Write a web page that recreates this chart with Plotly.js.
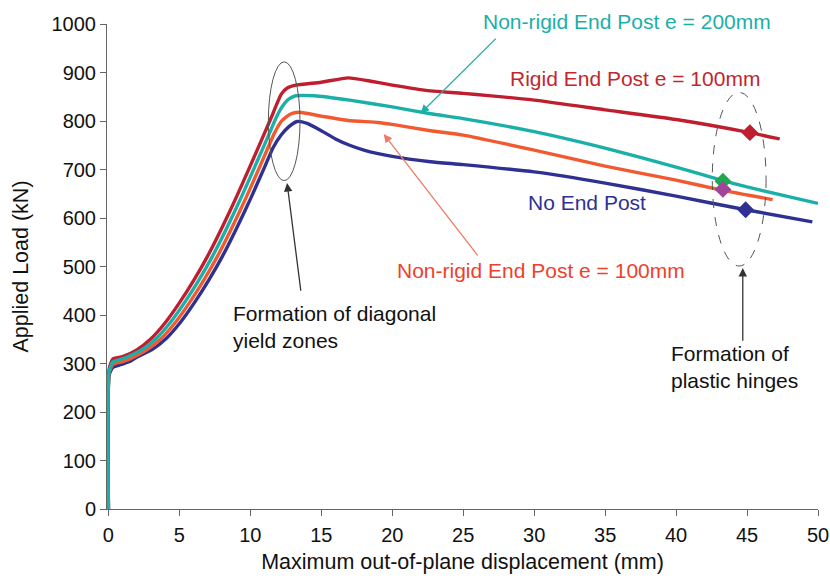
<!DOCTYPE html>
<html>
<head>
<meta charset="utf-8">
<script src="https://cdn.plot.ly/plotly-3.0.1.min.js"></script>
<style>html,body{margin:0;padding:0;background:#fff}#chart{width:830px;height:579px}</style>
</head>
<body>
<div id="chart"></div>
<script>
// ---- data ----
const rigidX = [0, 0.05, 0.3, 1, 2, 3, 4, 5, 6, 7, 8, 9, 10, 11, 11.5, 12.17, 12.6, 13.2, 15, 16.9, 18.5, 20, 22.7, 25, 30, 35, 40, 45.2, 47.3];
const rigidY = [0, 288, 309, 314, 328, 351, 384, 425, 471, 522, 580, 642, 708, 775, 809, 855, 868, 874, 880, 889, 882, 874, 862, 857, 843, 823, 803, 776, 763];

const nr200X = [0, 0.05, 0.3, 0.8, 1.35, 2.35, 3.35, 4.35, 5.35, 6.35, 7.35, 8.35, 9.35, 10.35, 11.35, 11.85, 12.3, 12.7, 13.2, 14.5, 17, 20, 22.7, 25, 30, 35, 40, 43.3, 45, 50];
const nr200Y = [0, 284, 303, 308, 314, 328, 351, 384, 425, 471, 522, 580, 642, 708, 775, 809, 832, 845, 852, 852, 843, 829, 815, 805, 778, 744, 705, 677, 664, 630];

const nr100X = [0, 0.05, 0.3, 1, 1.7, 2.7, 3.7, 4.7, 5.7, 6.7, 7.7, 8.7, 9.7, 10.7, 11.7, 12.2, 12.8, 13.45, 15, 16.9, 19, 20, 22.7, 25, 30, 35, 40, 43.3, 46.8];
const nr100Y = [0, 280, 298, 304, 312, 328, 351, 384, 425, 471, 522, 580, 642, 708, 775, 800, 814, 818, 810, 801, 797, 793, 780, 771, 740, 707, 678, 657, 638];

const noPostX = [0, 0.05, 0.3, 0.9, 1.5, 2.05, 3.05, 4.05, 5.05, 6.05, 7.05, 8.05, 9.05, 10.05, 11.05, 11.6, 12.17, 12.7, 13.3, 14, 15, 16, 17, 18, 20, 22.7, 25, 30, 35, 40, 44.9, 49.6];
const noPostY = [0, 276, 292, 298, 304, 314, 328, 351, 384, 425, 471, 522, 580, 642, 708, 745, 771, 788, 799, 795, 780, 763, 750, 740, 727, 716, 710, 695, 672, 645, 617, 592];

// plastic-hinge markers
const hingeX = [45.2, 43.3, 43.3, 44.9];
const hingeY = [776, 676, 659, 617];
const hingeColors = ['#be1e2d', '#1fa84f', '#a3449b', '#2e3192'];

const xTicks = [0, 5, 10, 15, 20, 25, 30, 35, 40, 45, 50];
const yTicks = [0, 100, 200, 300, 400, 500, 600, 700, 800, 900, 1000];

const FONT = 'Liberation Sans, Arial, sans-serif';

function line(x, y, color) {
  return {x: x, y: y, type: 'scatter', mode: 'lines',
    line: {color: color, width: 3.4, shape: 'spline', smoothing: 0.5},
    hoverinfo: 'skip', showlegend: false};
}

const traces = [
  line(noPostX, noPostY, '#2e3192'),
  line(nr100X, nr100Y, '#f15a30'),
  line(rigidX, rigidY, '#be1e2d'),
  line(nr200X, nr200Y, '#1ab0a8'),
  {x: hingeX, y: hingeY, type: 'scatter', mode: 'markers',
   marker: {symbol: 'diamond', size: 13, color: hingeColors},
   hoverinfo: 'skip', showlegend: false}
];

const txt = (text, x, y, color, xanchor, yref) => ({
  text: text, x: x, y: y, xref: 'x', yref: yref || 'y', showarrow: false,
  xanchor: xanchor || 'center', yanchor: 'middle', align: 'left',
  font: {family: FONT, size: 21, color: color}
});
const arrow = (x, y, ax, ay, color) => ({
  text: '', x: x, y: y, ax: ax, ay: ay, xref: 'x', yref: 'y', axref: 'x', ayref: 'y',
  showarrow: true, arrowhead: 2, arrowsize: 1.3, arrowwidth: 1.3, arrowcolor: color
});

const layout = {
  width: 830, height: 579,
  margin: {l: 107, r: 12, t: 24, b: 70},
  paper_bgcolor: '#fff', plot_bgcolor: '#fff',
  font: {family: FONT, size: 20, color: '#111'},
  xaxis: {
    range: [-0.1, 50], tickvals: xTicks, ticktext: xTicks.map(String),
    showgrid: false, zeroline: false, showline: true, linecolor: '#666', linewidth: 1,
    ticks: 'outside', ticklen: 6, tickcolor: '#666', ticklabelstandoff: 2,
    tickfont: {family: FONT, size: 20, color: '#111'},
    title: {text: 'Maximum out-of-plane displacement (mm)', font: {family: FONT, size: 21.5, color: '#111'}, standoff: 8}
  },
  yaxis: {
    range: [0, 1000], tickvals: yTicks, ticktext: yTicks.map(String),
    showgrid: false, zeroline: false, showline: true, linecolor: '#666', linewidth: 1,
    ticks: 'outside', ticklen: 6, tickcolor: '#666',
    tickfont: {family: FONT, size: 20, color: '#111'},
    title: {text: 'Applied Load (kN)', font: {family: FONT, size: 21.5, color: '#111'}, standoff: 16}
  },
  shapes: [
    {type: 'circle', xref: 'x', yref: 'y', x0: 11.27, x1: 13.5, y0: 677, y1: 922,
     line: {color: '#555', width: 1}},
    {type: 'circle', xref: 'x', yref: 'y', x0: 42.55, x1: 46.34, y0: 501, y1: 859,
     line: {color: '#555', width: 1, dash: 'dash'}}
  ],
  annotations: [
    txt('Non-rigid End Post e = 200mm', 36.57, 1.006, '#1aafaa', 'center', 'paper'),
    txt('Rigid End Post e = 100mm', 37.13, 887, '#c1272d'),
    txt('No End Post', 33.69, 631, '#2e3192'),
    txt('Non-rigid End Post e = 100mm', 30.45, 491, '#ef3f2c'),
    txt('Formation of diagonal<br>yield zones', 8.65, 375, '#111', 'left'),
    txt('Formation of<br>plastic hinges', 39.52, 293, '#111', 'left'),
    arrow(22.0, 816, 27.4, 973, '#1ab0a8'),
    arrow(19.4, 773, 26.1, 520, '#f07a68'),
    arrow(12.59, 672, 13.57, 447, '#333'),
    arrow(44.7, 497, 44.7, 344, '#333')
  ]
};

Plotly.newPlot('chart', traces, layout, {staticPlot: true, displayModeBar: false});
</script>
</body>
</html>
